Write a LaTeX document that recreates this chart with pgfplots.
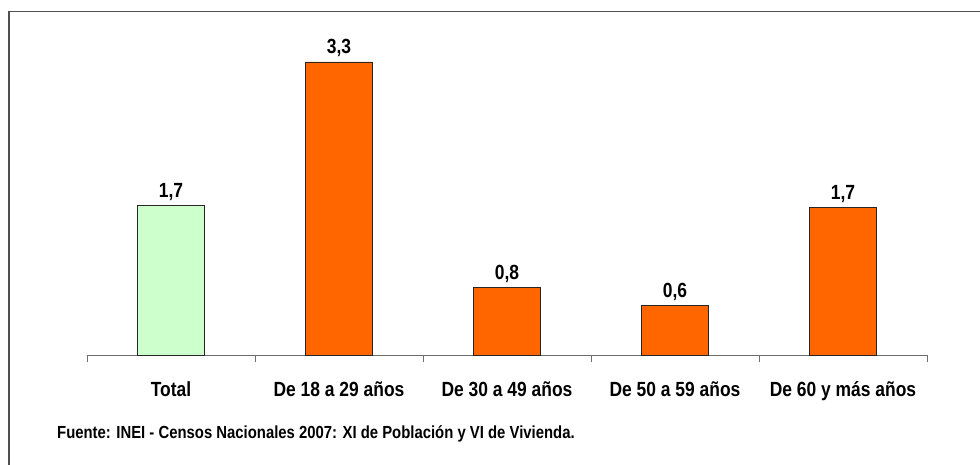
\documentclass[border=0pt]{standalone}
\usepackage{fontspec}
\setmainfont{Liberation Sans}[FakeStretch=0.85]
\usepackage{pgfplots}
\pgfplotsset{compat=1.18}
\definecolor{barorange}{RGB}{255,102,0}
\definecolor{bargreen}{RGB}{204,255,204}
\definecolor{framegray}{RGB}{80,80,80}
\definecolor{axisgray}{RGB}{110,110,110}
\begin{document}
\begin{tikzpicture}
\path[use as bounding box] (0,0) rectangle (980pt,464pt);
\draw[line width=1.6pt, framegray] (9pt,-1pt) -- (9pt,452.3pt) -- (981pt,452.3pt);
\begin{axis}[
  at={(87pt,109pt)}, anchor=south west,
  scale only axis,
  width=840pt, height=310.8pt,
  xmin=-0.5, xmax=4.5,
  ymin=0, ymax=3.5,
  axis x line=bottom,
  axis y line=none,
  x axis line style={-, axisgray, line width=1pt},
  xtick={0,1,2,3,4},
  xticklabels={Total, De 18 a 29 años, De 30 a 49 años, De 50 a 59 años, De 60 y más años},
  major tick length=0pt,
  extra x ticks={-0.5,0.5,1.5,2.5,3.5,4.5},
  extra x tick labels={},
  extra x tick style={major tick length=7pt, tick align=outside, tick style={axisgray, line width=1pt}},
  xticklabel style={font=\fontsize{20.5}{24}\selectfont\bfseries, anchor=base, yshift=-41.7pt},
  ybar, bar width=67pt,
  clip=false,
  nodes near coords,
  /pgf/number format/.cd, use comma, fixed, precision=1, fixed zerofill, assume math mode=true,
  /pgfplots/.cd,
  nodes near coords style={font=\fontsize{20.5}{24}\selectfont\bfseries, anchor=base, yshift=8pt, text=black},
]
\addplot[ybar, bar shift=0pt, fill=bargreen, draw=black!85, line width=0.8pt] coordinates {(0,1.68)};
\addplot[ybar, bar shift=0pt, fill=barorange, draw=black!85, line width=0.8pt] coordinates {(1,3.30) (2,0.76) (3,0.56) (4,1.66)};
\end{axis}
\node[anchor=base west, font=\fontsize{17.5}{20}\selectfont\bfseries, inner sep=0pt] at (57pt,26pt) {Fuente: INEI - Censos Nacionales 2007: XI de Población y VI de Vivienda.};
\end{tikzpicture}
\end{document}
